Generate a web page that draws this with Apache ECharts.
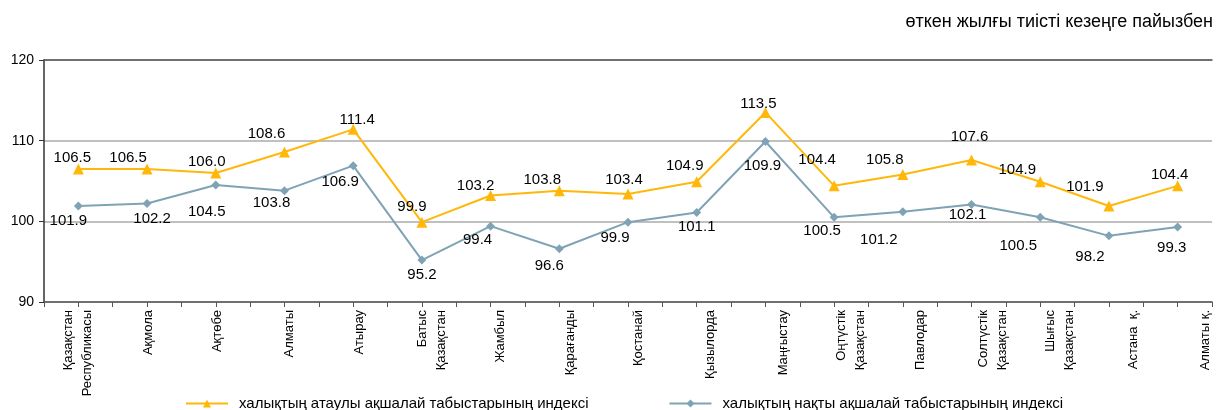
<!DOCTYPE html>
<html><head><meta charset="utf-8">
<script src="https://cdn.jsdelivr.net/npm/echarts@6/dist/echarts.min.js"></script>
<style>html,body{margin:0;padding:0;background:#fff}#c{width:1222px;height:410px}</style>
</head><body><div id="c"></div>
<script>
const categories = ['Қазақстан\nРеспубликасы','Ақмола','Ақтөбе','Алматы','Атырау','Батыс\nҚазақстан','Жамбыл','Қарағанды','Қостанай','Қызылорда','Маңғыстау','Оңтүстік\nҚазақстан','Павлодар','Солтүстік\nҚазақстан','Шығыс\nҚазақстан','Астана  қ.','Алматы қ.'];
const nominalIndex = [106.5,106.5,106.0,108.6,111.4,99.9,103.2,103.8,103.4,104.9,113.5,104.4,105.8,107.6,104.9,101.9,104.4];
const realIndex = [101.9,102.2,104.5,103.8,106.9,95.2,99.4,96.6,99.9,101.1,109.9,100.5,101.2,102.1,100.5,98.2,99.3];
const seriesNames = ['халықтың атаулы ақшалай табыстарының индексі','халықтың нақты ақшалай табыстарының индексі'];
const yTicks = [90,100,110,120];
const unitTitle = 'өткен жылғы тиісті кезеңге пайызбен';

// label offsets (style only)
const nomOff = [[-6,-11],[-19,-11],[-9,-11],[-18,-18],[4,-10],[-10,-15],[-15,-10],[-17,-11],[-4,-14],[-12,-16],[-7,-9],[-17,-26],[-18,-15],[-2,-23],[-23,-12],[-24,-19],[-8,-11]];
const realOff = [[-10,15],[5,15],[-9,27],[-13,12],[-13,16],[0,15],[-13,14],[-10,17],[-13,16],[0,14],[-3,24],[-12,14],[-24,28],[-4,10],[-22,29],[-19,21],[-6,21]];
// horizontal shift of category labels (px, to the right)
const catShift = [0,1,2,5,6,10,10,11,10,14,18,17,18,21,20,24,28];

const FONT = 'Liberation Sans, Arial, sans-serif';
const ORANGE = '#FFB80A', BLUE = '#7FA3B5';
const halfTicks = [];
for (let i = 0; i < categories.length * 2; i++) halfTicks.push(String(i));

function mk(vals, offs) {
  return vals.map((v, i) => ({value: v, label: {offset: offs[i]}}));
}
const rich = {t: {fontSize: 13, lineHeight: 19, color: '#000', fontFamily: FONT}};
catShift.forEach((s, i) => { if (s > 0) rich['g' + i] = {lineHeight: 2 * s, fontSize: 1}; });
function catFmt(val, idx) {
  const body = val.split('\n').map(l => '{t|' + l + '}').join('\n');
  return catShift[idx] > 0 ? '{g' + idx + '|\u00a0}\n' + body : body;
}

const chart = echarts.init(document.getElementById('c'));
chart.setOption({
  animation: false,
  textStyle: {fontFamily: FONT},
  title: {text: unitTitle, right: 4, top: 8, textStyle: {fontFamily: FONT, fontSize: 18, fontWeight: 'normal', color: '#000'}},
  grid: {left: 44, right: 10, top: 60, bottom: 108, containLabel: false},
  legend: {
    top: 391, left: 180, itemWidth: 42, itemHeight: 10, itemGap: 80,
    textStyle: {fontFamily: FONT, fontSize: 15, color: '#000', padding: [0,0,0,6]},
    data: seriesNames
  },
  xAxis: [{
    type: 'category', data: categories, boundaryGap: true,
    axisLine: {lineStyle: {color: '#555', width: 1.5}},
    axisTick: {show: false},
    axisLabel: {interval: 0, rotate: 90, fontSize: 13, lineHeight: 19, color: '#000', margin: 8, fontFamily: FONT, formatter: catFmt, rich: rich}
  }, {
    type: 'category', data: halfTicks, boundaryGap: true, position: 'bottom',
    axisLine: {show: false}, axisLabel: {show: false},
    axisTick: {show: true, interval: 0, length: 5, lineStyle: {color: '#555'}}
  }, {
    type: 'category', data: halfTicks, position: 'top',
    axisLine: {show: true, lineStyle: {color: '#555', width: 1.5}},
    axisLabel: {show: false}, axisTick: {show: false}
  }],
  yAxis: {
    type: 'value', min: yTicks[0], max: yTicks[yTicks.length-1], interval: 10,
    axisLine: {show: true, lineStyle: {color: '#333', width: 1.5}},
    axisTick: {show: true, length: 5, lineStyle: {color: '#333'}},
    axisLabel: {fontSize: 14, color: '#000', margin: 10, fontFamily: FONT},
    splitLine: {show: true, lineStyle: {color: '#c0c0c0', width: 2}}
  },
  series: [{
    name: seriesNames[0], type: 'line', data: mk(nominalIndex, nomOff),
    symbol: 'triangle', symbolSize: 11,
    itemStyle: {color: ORANGE}, lineStyle: {color: ORANGE, width: 2},
    label: {show: true, position: 'inside', fontSize: 15, color: '#000', fontFamily: FONT, formatter: p => p.value.toFixed(1)},
    z: 3
  }, {
    name: seriesNames[1], type: 'line', data: mk(realIndex, realOff),
    symbol: 'diamond', symbolSize: 9,
    itemStyle: {color: BLUE}, lineStyle: {color: BLUE, width: 2},
    label: {show: true, position: 'inside', fontSize: 15, color: '#000', fontFamily: FONT, formatter: p => p.value.toFixed(1)},
    z: 2
  }]
});
</script></body></html>
